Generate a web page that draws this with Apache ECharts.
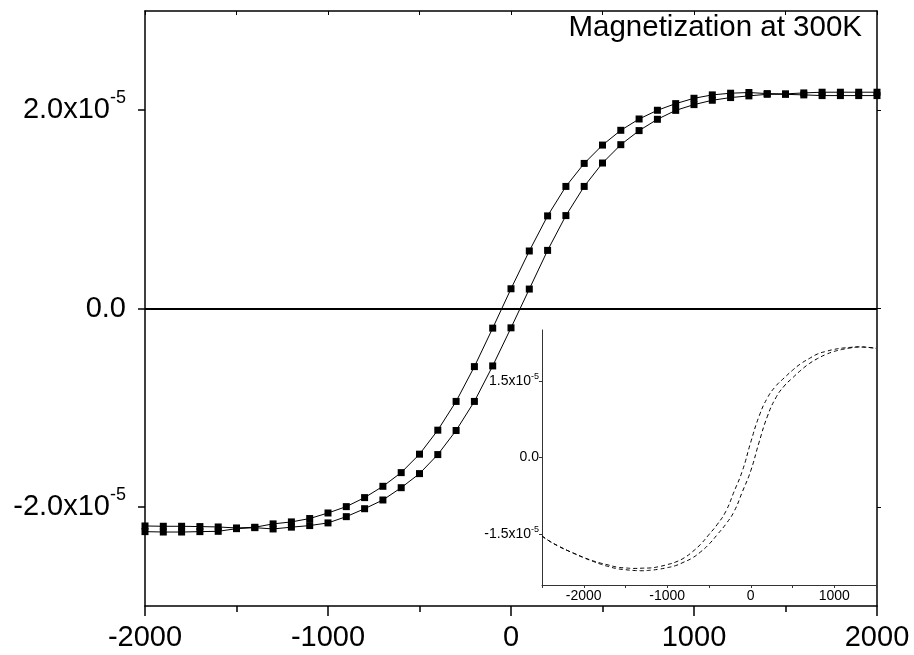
<!DOCTYPE html>
<html><head><meta charset="utf-8">
<script src="https://cdn.jsdelivr.net/npm/echarts@6/dist/echarts.min.js"></script>
<style>html,body{margin:0;padding:0;background:#fff}#c{width:914px;height:655px}</style>
</head><body><div id="c"></div>
<script>
// Applied field (Oe) for the main loop
const fieldOe = [-2000,-1900,-1800,-1700,-1600,-1500,-1400,-1300,-1200,-1100,-1000,-900,-800,-700,-600,-500,-400,-300,-200,-100,0,100,200,300,400,500,600,700,800,900,1000,1100,1200,1300,1400,1500,1600,1700,1800,1900,2000];
// Magnetization (x10^-5) - descending branch (left shifted)
const branchDown = [-2.193,-2.196,-2.196,-2.199,-2.203,-2.213,-2.206,-2.172,-2.152,-2.118,-2.062,-1.998,-1.907,-1.793,-1.655,-1.469,-1.227,-0.937,-0.586,-0.198,0.199,0.580,0.934,1.231,1.463,1.648,1.797,1.911,1.999,2.066,2.120,2.154,2.171,2.178,2.167,2.164,2.174,2.181,2.181,2.181,2.181];
// Magnetization (x10^-5) - ascending branch (right shifted)
const branchUp = [-2.250,-2.254,-2.254,-2.250,-2.247,-2.220,-2.210,-2.223,-2.205,-2.189,-2.162,-2.099,-2.019,-1.931,-1.807,-1.665,-1.473,-1.230,-0.937,-0.579,-0.195,0.196,0.586,0.937,1.231,1.467,1.652,1.794,1.908,1.998,2.056,2.100,2.127,2.144,2.160,2.160,2.154,2.147,2.147,2.147,2.147];

// Inset curves
const insetField = [-2500,-2400,-2300,-2200,-2100,-2000,-1900,-1800,-1700,-1600,-1500,-1400,-1300,-1200,-1100,-1000,-900,-800,-700,-600,-500,-400,-300,-200,-100,0,100,200,300,400,500,600,700,800,900,1000,1100,1200,1300,1400,1500];
const insetDown = [-1.54,-1.65,-1.74,-1.82,-1.89,-1.96,-2.02,-2.07,-2.11,-2.15,-2.165,-2.175,-2.17,-2.165,-2.14,-2.10,-2.05,-1.97,-1.85,-1.70,-1.51,-1.31,-1.06,-0.67,-0.26,0.30,0.81,1.17,1.40,1.56,1.71,1.84,1.94,2.03,2.08,2.12,2.145,2.16,2.17,2.16,2.14];
const insetUp = [-1.54,-1.65,-1.74,-1.82,-1.895,-1.965,-2.03,-2.09,-2.14,-2.18,-2.20,-2.215,-2.22,-2.21,-2.19,-2.16,-2.12,-2.05,-1.97,-1.85,-1.70,-1.51,-1.31,-1.06,-0.67,-0.26,0.30,0.81,1.17,1.40,1.56,1.71,1.84,1.94,2.02,2.08,2.12,2.15,2.165,2.16,2.14];

// Tick values
const mainYTicks = [-2, 0, 2];
const insetYTicks = [-1.5, 0, 1.5];
const insetYZero = [0];
const insetYSci = [-1.5, 1.5];
const insetXLabels = [-2000, -1000, 0, 1000];
const titleText = 'Magnetization at 300K';

const FONT = 'Liberation Sans, Arial, sans-serif';
function pairs(xs, ys) { return xs.map((x, i) => [x, ys[i]]); }
function sci(v) { return v === 0 ? '{a|0.0}' : '{a|' + v.toFixed(1) + 'x10}{s|-5}'; }
function plain(v) { return String(v); }

const chart = echarts.init(document.getElementById('c'), null, {renderer: 'canvas'});
const axisLineMain = {show: true, onZero: false, lineStyle: {color: '#000', width: 1.5}};
const axisLineInset = {show: true, onZero: false, lineStyle: {color: '#333', width: 1}};
const hiddenAxisBits = {axisLine: {show: false}, axisTick: {show: false}, splitLine: {show: false}};

chart.setOption({
  animation: false,
  backgroundColor: '#fff',
  grid: [
    {left: 145, right: 37, top: 11, bottom: 49},
    {left: 542, right: 38, top: 330, bottom: 70}
  ],
  graphic: [{
    type: 'text', right: 52, top: 13, z: 100,
    style: {text: titleText, fontSize: 29.5, fontFamily: FONT, fill: '#000'}
  }],
  xAxis: [
    {type: 'value', gridIndex: 0, position: 'bottom', min: -2000, max: 2000, interval: 1000,
     axisLine: axisLineMain,
     axisTick: {show: true, inside: false, length: 10, lineStyle: {color: '#000', width: 1.5}},
     minorTick: {show: true, splitNumber: 2, length: 6, lineStyle: {color: '#000', width: 1.5}},
     axisLabel: {show: true, fontSize: 29, fontFamily: FONT, color: '#000', margin: 17, formatter: plain},
     splitLine: {show: false}},
    {type: 'value', gridIndex: 0, position: 'top', min: -2000, max: 2000, interval: 500,
     axisLine: axisLineMain,
     axisTick: {show: true, inside: true, length: 4, lineStyle: {color: '#000', width: 1}},
     axisLabel: {show: false}, splitLine: {show: false}},
    {type: 'value', gridIndex: 1, position: 'bottom', min: -2500, max: 1500, interval: 500,
     axisLine: axisLineInset,
     axisTick: {show: true, inside: false, length: 3, lineStyle: {color: '#333', width: 1}},
     axisLabel: {show: true, customValues: insetXLabels, fontSize: 14, fontFamily: FONT, color: '#000', margin: 4, formatter: plain},
     splitLine: {show: false}}
  ],
  yAxis: [
    {type: 'value', gridIndex: 0, position: 'left', min: -3, max: 3,
     axisLine: axisLineMain,
     axisTick: {show: true, inside: false, length: 7, customValues: mainYTicks, lineStyle: {color: '#000', width: 1.5}},
     axisLabel: {show: true, customValues: mainYTicks, margin: 19, formatter: sci,
       fontSize: 29, fontFamily: FONT, color: '#000',
       rich: {a: {fontSize: 29, fontFamily: FONT, color: '#000', lineHeight: 42, align: 'right'},
              s: {fontSize: 18, fontFamily: FONT, color: '#000', verticalAlign: 'top', align: 'right'}}},
     splitLine: {show: false}},
    {type: 'value', gridIndex: 0, position: 'right', min: -3, max: 3,
     axisLine: axisLineMain,
     axisTick: {show: true, inside: false, length: 4, customValues: mainYTicks, lineStyle: {color: '#000', width: 1}},
     axisLabel: {show: false}, splitLine: {show: false}},
    // inset: axis line, ticks and the "0.0" label
    {type: 'value', gridIndex: 1, position: 'left', min: -2.5, max: 2.5,
     axisLine: axisLineInset,
     axisTick: {show: true, inside: false, length: 3, customValues: insetYTicks, lineStyle: {color: '#333', width: 1}},
     axisLabel: {show: true, customValues: insetYZero, margin: 3, formatter: () => '0.0',
       fontSize: 14, fontFamily: FONT, color: '#000'},
     splitLine: {show: false}},
    // inset: mantissa part "1.5x10"
    Object.assign({type: 'value', gridIndex: 1, position: 'left', min: -2.5, max: 2.5,
     axisLabel: {show: true, customValues: insetYSci, margin: 11, formatter: v => v.toFixed(1) + 'x10',
       fontSize: 14, fontFamily: FONT, color: '#000'}}, hiddenAxisBits),
    // inset: exponent superscript
    Object.assign({type: 'value', gridIndex: 1, position: 'left', min: -2.5, max: 2.5,
     axisLabel: {show: true, customValues: insetYSci, margin: 3, formatter: () => '-5',
       fontSize: 9, lineHeight: 9, verticalAlign: 'bottom', fontFamily: FONT, color: '#000'}}, hiddenAxisBits)
  ],
  series: [
    {type: 'line', xAxisIndex: 0, yAxisIndex: 0, data: pairs(fieldOe, branchDown),
     symbol: 'rect', symbolSize: 7, showAllSymbol: true,
     itemStyle: {color: '#000'}, lineStyle: {color: '#000', width: 1},
     markLine: {silent: true, symbol: ['none', 'none'], label: {show: false},
       lineStyle: {color: '#000', width: 2, type: 'solid'}, data: [{yAxis: 0}]}},
    {type: 'line', xAxisIndex: 0, yAxisIndex: 0, data: pairs(fieldOe, branchUp),
     symbol: 'rect', symbolSize: 7, showAllSymbol: true,
     itemStyle: {color: '#000'}, lineStyle: {color: '#000', width: 1}},
    {type: 'line', xAxisIndex: 2, yAxisIndex: 2, data: pairs(insetField, insetDown),
     symbol: 'none', smooth: true, lineStyle: {color: '#000', width: 1, type: [4, 3]}},
    {type: 'line', xAxisIndex: 2, yAxisIndex: 2, data: pairs(insetField, insetUp),
     symbol: 'none', smooth: true, lineStyle: {color: '#000', width: 1, type: [4, 3]}}
  ]
});
</script>
</body></html>
